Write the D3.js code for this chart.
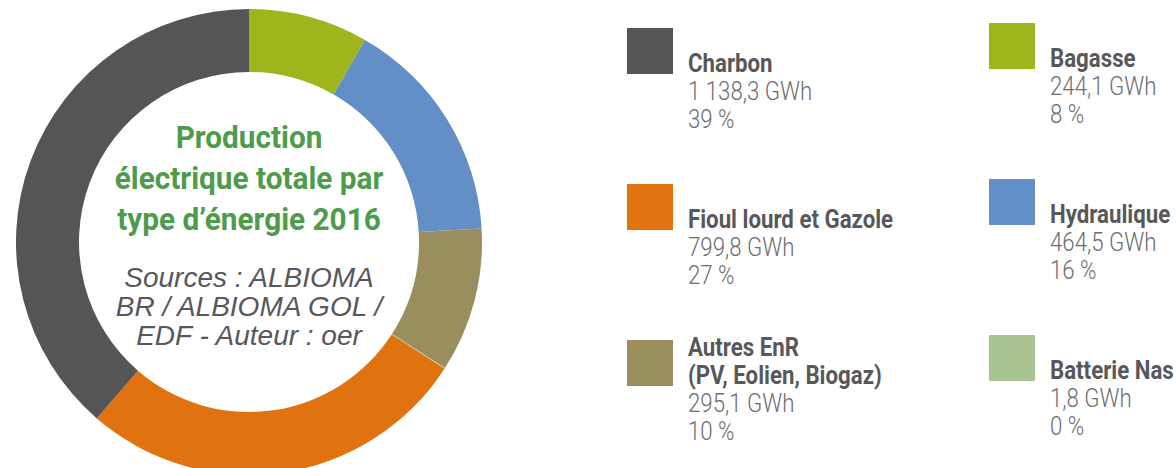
<!DOCTYPE html>
<html>
<meta charset="utf-8">
<title>Production électrique totale par type d'énergie 2016</title>
<style>
body { margin: 0; background: #fff; }
svg { display: block; }
.lbl { font-family: Roboto, "DejaVu Sans Condensed", sans-serif; font-weight: bold; font-size: 25px; fill: #58585a; }
.val { font-family: Roboto, "DejaVu Sans Condensed", sans-serif; font-weight: 300; font-size: 25px; fill: #6d6d6f; }
.ttl { font-family: Roboto, "DejaVu Sans Condensed", sans-serif; font-weight: bold; font-size: 31px; fill: #4f9b4c; }
.src { font-family: "Liberation Sans", sans-serif; font-style: italic; font-size: 28px; fill: #58585a; }
</style>
<body>
<svg id="chart" width="1176" height="468"></svg>
<script src="https://cdnjs.cloudflare.com/ajax/libs/d3/7.8.5/d3.min.js"></script>
<script>
// donnees (GWh, 2016)
var names  = ["Charbon", "Bagasse", "Fioul lourd et Gazole", "Hydraulique", "Autres EnR|(PV, Eolien, Biogaz)", "Batterie Nas"];
var values = [1138.3, 244.1, 799.8, 464.5, 295.1, 1.8];
var colors = ["#555557", "#a0b51b", "#e0720f", "#638fc6", "#9b8e5e", "#a8c490"];
// ordre des parts dans l'anneau (sens horaire depuis midi)
var ringOrder = [1, 3, 4, 5, 2, 0];
var titleLines  = ["Production", "électrique totale par", "type d’énergie 2016"];
var sourceLines = ["Sources : ALBIOMA", "BR / ALBIOMA GOL /", "EDF - Auteur : oer"];

var fr = d3.formatLocale({decimal: ",", thousands: " ", grouping: [3], currency: ["", " €"]});
var fmt = fr.format(",.1f");
var total = d3.sum(values);

// pas de police condensee installee : on tasse horizontalement
var narrow = 0.89, narrowTitle = 0.96;
function at(x, y, s) { return "translate(" + x + "," + y + ") scale(" + s + ",1)"; }

var svg = d3.select("#chart");

// anneau
var cx = 249, cy = 242;
var pie = d3.pie().sort(null).value(function(i) { return values[i]; });
var arc = d3.arc().innerRadius(170).outerRadius(233);

var g = svg.append("g").attr("transform", "translate(" + cx + "," + cy + ")");
g.selectAll("path")
    .data(pie(ringOrder))
    .enter().append("path")
    .attr("d", arc)
    .attr("fill", function(d) { return colors[d.data]; });

g.selectAll("text.ttl")
    .data(titleLines)
    .enter().append("text")
    .attr("class", "ttl")
    .attr("text-anchor", "middle")
    .attr("transform", function(d, i) { return at(0, -94 + i * 41, narrowTitle); })
    .text(function(d) { return d; });

g.selectAll("text.src")
    .data(sourceLines)
    .enter().append("text")
    .attr("class", "src")
    .attr("text-anchor", "middle")
    .attr("y", function(d, i) { return 45 + i * 29; })
    .text(function(d) { return d; });

// legende
var colSq = [627, 989], colTx = [688, 1050], colDy = [0, -5];
var rowTop = [28, 184, 340];

var leg = svg.selectAll("g.leg")
    .data(names)
    .enter().append("g")
    .attr("class", "leg")
    .attr("transform", function(d, i) {
      return "translate(0," + (rowTop[Math.floor(i / 2)] + colDy[i % 2]) + ")";
    });

leg.append("rect")
    .attr("x", function(d, i) { return colSq[i % 2]; })
    .attr("width", 46).attr("height", 46)
    .attr("fill", function(d, i) { return colors[i]; });

leg.each(function(d, i) {
  var el = d3.select(this), x = colTx[i % 2];
  var parts = d.split("|");
  parts.forEach(function(p, k) {
    el.append("text").attr("class", "lbl")
      .attr("transform", at(x, 44 - (parts.length - 1 - k) * 28, narrow))
      .text(p);
  });
  el.append("text").attr("class", "val")
    .attr("transform", at(x, 72, narrow))
    .text(fmt(values[i]) + " GWh");
  el.append("text").attr("class", "val")
    .attr("transform", at(x, 100, narrow))
    .text(Math.round(values[i] / total * 100) + " %");
});
</script>
</body>
</html>
